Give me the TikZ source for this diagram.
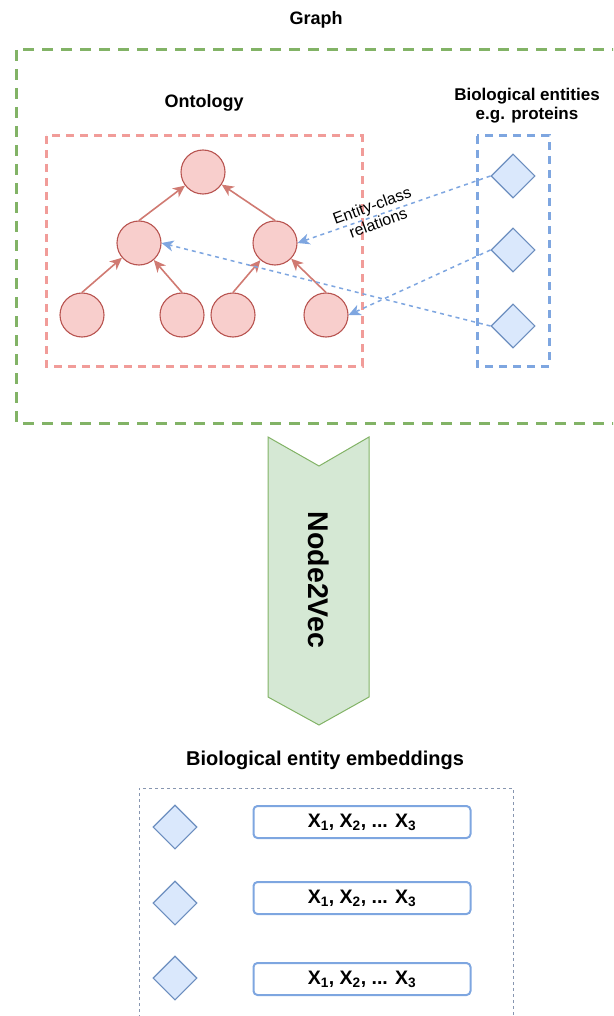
\documentclass[tikz,border=0pt]{standalone}
\usepackage{fontspec}
\setmainfont{Liberation Sans}
\usetikzlibrary{arrows.meta,shapes.geometric}
\definecolor{gdash}{HTML}{82B366}
\definecolor{gfill}{HTML}{D5E8D4}
\definecolor{pdash}{HTML}{F19C99}
\definecolor{rfill}{HTML}{F8CECC}
\definecolor{rline}{HTML}{B85450}
\definecolor{rarrow}{HTML}{D07A72}
\definecolor{bdash}{HTML}{7EA6E0}
\definecolor{bfill}{HTML}{DAE8FC}
\definecolor{bline}{HTML}{6C8EBF}
\definecolor{dotgray}{HTML}{8796B0}
\tikzset{
  circ/.style={circle, draw=rline, fill=rfill, minimum size=44pt, inner sep=0pt, line width=1.1pt},
  ent/.style={diamond, draw=bline, fill=bfill, minimum width=44pt, minimum height=44pt, inner sep=0pt, line width=1.1pt},
  tarrow/.style={draw=rarrow, line width=1.6pt, -{Stealth[length=12pt,width=11pt,inset=3.5pt]}},
  rel/.style={draw=bdash, line width=1.5pt, dash pattern=on 4pt off 4pt, -{Stealth[length=12pt,width=11pt,inset=3.5pt]}},
  gbox/.style={draw=gdash, line width=3pt, dash pattern=on 11pt off 8pt},
  pbox/.style={draw=pdash, line width=3pt, dash pattern=on 8pt off 6pt},
  bbox/.style={draw=bdash, line width=3pt, dash pattern=on 8pt off 6pt},
  embbox/.style={draw=dotgray, line width=1pt, dash pattern=on 3pt off 3pt},
  emb/.style={rounded corners=4pt, draw=bdash, line width=2pt, minimum width=217pt, minimum height=32pt, inner sep=0pt, font=\fontsize{19.5}{22}\selectfont\bfseries},
  lbl/.style={font=\fontsize{18}{21}\selectfont\bfseries, align=center},
}
\begin{document}
\begin{tikzpicture}[x=1pt,y=-1pt]
\useasboundingbox (0,0) rectangle (613,1016);
\clip (0,0) rectangle (613,1016);
% containers
\draw[gbox] (16,50) rectangle (640,423);
\draw[pbox] (46,136) rectangle (362,366);
\draw[bbox] (477,136) rectangle (549,366);
% labels
\node[lbl] (tgraph) at (316,20) {Graph};
\node[lbl] (tonto) at (204,103) {Ontology};
\node[lbl, font=\fontsize{17}{19}\selectfont\bfseries] (tbio) at (527,106) {Biological entities\\e.g. proteins};
% ontology tree
\node[circ] (top) at (203,172) {};
\node[circ] (ml) at (139,243) {};
\node[circ] (mr) at (275,243) {};
\node[circ] (b1) at (82,315) {};
\node[circ] (b2) at (182,315) {};
\node[circ] (b3) at (233,315) {};
\node[circ] (b4) at (326,315) {};
\draw[tarrow] (b1.north) -- (ml);
\draw[tarrow] (b2.north) -- (ml);
\draw[tarrow] (b3.north) -- (mr);
\draw[tarrow] (b4.north) -- (mr);
\draw[tarrow] (ml.north) -- (top);
\draw[tarrow] (mr.north) -- (top);
% entities
\node[ent] (d1) at (513,176) {};
\node[ent] (d2) at (513,250) {};
\node[ent] (d3) at (513,326) {};
\draw[rel] (d1.west) -- (mr.east);
\draw[rel] (d2.west) -- (b4.east);
\draw[rel] (d3.west) -- (ml.east);
\node[rotate=20, align=center, font=\fontsize{16}{18}\selectfont] (trel) at (375,214) {Entity-class\\relations};
% Node2Vec chevron
\draw[draw=gdash, fill=gfill, line width=1pt] (268,437) -- (319,466) -- (369,437) -- (369,697) -- (319,725) -- (268,697) -- cycle;
\node[rotate=-90, font=\fontsize{28.5}{31}\selectfont\bfseries] (tn2v) at (319,580) {Node2Vec};
% embeddings
\node[lbl, font=\fontsize{20}{23}\selectfont\bfseries] (temb) at (325,760) {Biological entity embeddings};
\draw[embbox] (139,1030) -- (139,788) -- (513,788) -- (513,1030);
\node[ent] (e1) at (175,827) {};
\node[ent] (e2) at (175,903) {};
\node[ent] (e3) at (175,978) {};
\node[emb] (v1) at (362,822) {X\textsubscript{1}, X\textsubscript{2}, ... X\textsubscript{3}};
\node[emb] (v2) at (362,898) {X\textsubscript{1}, X\textsubscript{2}, ... X\textsubscript{3}};
\node[emb] (v3) at (362,979) {X\textsubscript{1}, X\textsubscript{2}, ... X\textsubscript{3}};
\end{tikzpicture}
\end{document}
